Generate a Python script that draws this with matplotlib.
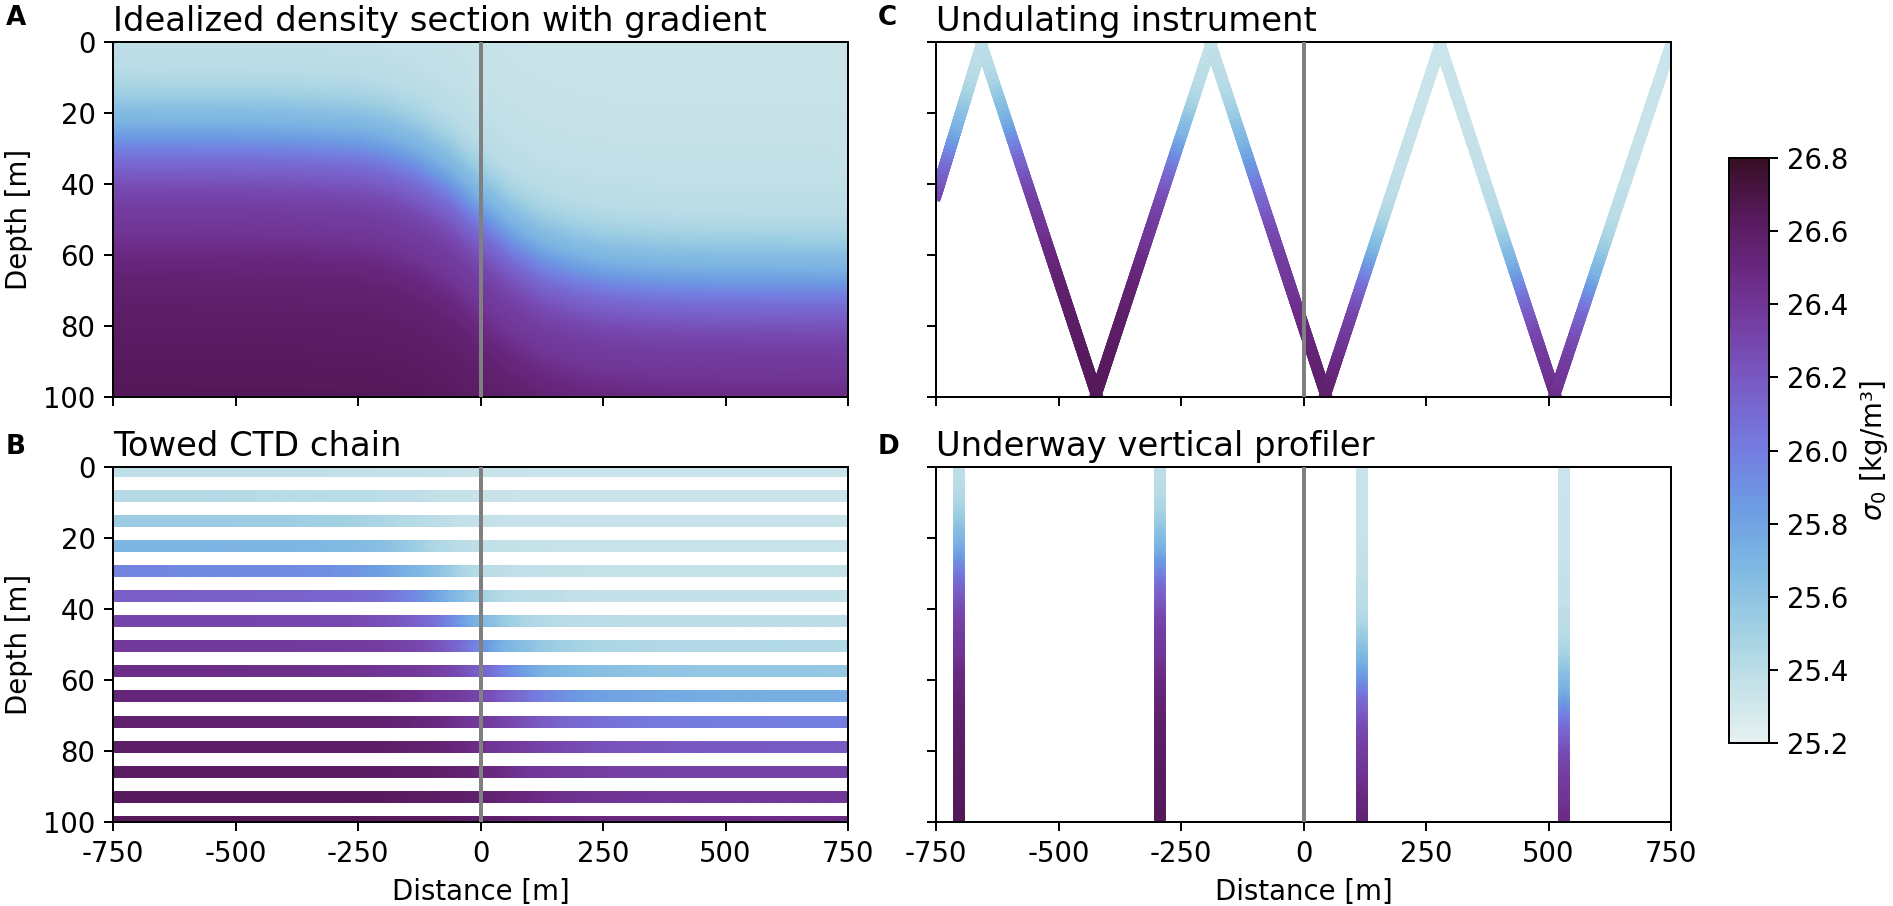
import numpy as np
import matplotlib
matplotlib.use("Agg")
import matplotlib.pyplot as plt
from matplotlib.colors import LinearSegmentedColormap, Normalize
from matplotlib.collections import LineCollection
from matplotlib.cm import ScalarMappable

plt.rcParams["font.size"] = 11
plt.rcParams["axes.unicode_minus"] = False

# depth of the pycnocline across the front
FRONT_X = [-750, -500, -375, -250, -188, -125, -62, 0, 62, 125, 188, 250, 375, 500, 750]
FRONT_DEPTH = [27.5, 27.7, 28.2, 29.3, 31.2, 34.8, 40.5, 48.5, 56, 61.5, 64.5, 66.5, 68, 68.5, 68.8]

# density profile relative to the pycnocline depth
PROFILE_OFFSET = [-70, -40, -29, -20, -16, -12.5, -9, -5, -1.5, 2.5, 6, 10, 14, 20, 26, 32, 41, 51, 72]
PROFILE_SIGMA = [25.33, 25.35, 25.37, 25.41, 25.46, 25.54, 25.63, 25.71, 25.83, 25.98,
                 26.10, 26.19, 26.28, 26.36, 26.40, 26.49, 26.56, 26.60, 26.65]

# sampling geometry of the instruments
CHAIN_DEPTHS = [1.0, 8.1, 15.1, 22.2, 29.3, 36.4, 43.4, 50.5, 57.6, 64.6, 71.7, 78.8, 85.9, 92.9, 100.0]
UNDULATOR_X = [-750, -657, -423, -189, 45, 279, 513, 750]
UNDULATOR_DEPTH = [43, 1, 99, 1, 99, 1, 99, 1]
PROFILER_X = [-704, -292, 120, 532]

SIGMA_MIN, SIGMA_MAX = 25.2, 26.8
CB_TICKS = [25.2, 25.4, 25.6, 25.8, 26.0, 26.2, 26.4, 26.6, 26.8]
X_TICKS = [-750, -500, -250, 0, 250, 500, 750]
Z_TICKS = [0, 20, 40, 60, 80, 100]

# approximation of cmocean "dense"
DENSE_COLORS = [
    (0.902, 0.945, 0.944),
    (0.765, 0.882, 0.910),
    (0.620, 0.812, 0.890),
    (0.500, 0.720, 0.890),
    (0.425, 0.615, 0.890),
    (0.455, 0.490, 0.880),
    (0.475, 0.375, 0.790),
    (0.460, 0.260, 0.660),
    (0.420, 0.165, 0.520),
    (0.340, 0.100, 0.360),
    (0.214, 0.056, 0.141),
]
cmap = LinearSegmentedColormap.from_list("dense", DENSE_COLORS)
norm = Normalize(SIGMA_MIN, SIGMA_MAX)
LW = 4.7


def sigma_at(x, z):
    h = np.interp(x, FRONT_X, FRONT_DEPTH)
    return np.interp(z - h, PROFILE_OFFSET, PROFILE_SIGMA)


def colored_line(ax, xs, zs, cap="round"):
    xs = np.asarray(xs, float)
    zs = np.asarray(zs, float)
    pts = np.column_stack([xs, zs])
    segs = np.stack([pts[:-1], pts[1:]], axis=1)
    lc = LineCollection(segs, cmap=cmap, norm=norm, linewidths=LW, capstyle=cap)
    lc.set_array(sigma_at((xs[:-1] + xs[1:]) / 2, (zs[:-1] + zs[1:]) / 2))
    ax.add_collection(lc)


W, H = 1893, 906
fig = plt.figure(figsize=(W / 180, H / 180), dpi=180)

ax_a = fig.add_axes([113 / W, 1 - 397 / H, 735 / W, 355 / H])
ax_b = fig.add_axes([113 / W, 1 - 822 / H, 735 / W, 355 / H])
ax_c = fig.add_axes([936 / W, 1 - 397 / H, 735 / W, 355 / H])
ax_d = fig.add_axes([936 / W, 1 - 822 / H, 735 / W, 355 / H])
cax = fig.add_axes([1729 / W, 1 - 743 / H, 40 / W, 585 / H])

# A: full field
xg = np.linspace(-750, 750, 751)
zg = np.linspace(0, 100, 401)
X, Z = np.meshgrid(xg, zg)
ax_a.imshow(sigma_at(X, Z), extent=[-750, 750, 100, 0], origin="upper",
            cmap=cmap, norm=norm, aspect="auto", interpolation="bilinear")

# B: towed chain, one line per sensor
for d in CHAIN_DEPTHS:
    xs = np.linspace(-750, 750, 301)
    colored_line(ax_b, xs, np.full_like(xs, d))

# C: undulating path
ux, uz = [], []
for i in range(len(UNDULATOR_X) - 1):
    ux.extend(np.linspace(UNDULATOR_X[i], UNDULATOR_X[i + 1], 80)[:-1])
    uz.extend(np.linspace(UNDULATOR_DEPTH[i], UNDULATOR_DEPTH[i + 1], 80)[:-1])
ux.append(UNDULATOR_X[-1])
uz.append(UNDULATOR_DEPTH[-1])
colored_line(ax_c, ux, uz, cap="projecting")

# D: vertical profiles
for px in PROFILER_X:
    zs = np.linspace(0, 100, 201)
    colored_line(ax_d, np.full_like(zs, px), zs)

titles = ["Idealized density section with gradient", "Towed CTD chain",
          "Undulating instrument", "Underway vertical profiler"]
for ax, title in zip([ax_a, ax_b, ax_c, ax_d], titles):
    ax.axvline(0, color="gray", lw=1.6, zorder=5)
    ax.set_xlim(-750, 750)
    ax.set_ylim(100, 0)
    ax.set_xticks(X_TICKS)
    ax.set_yticks(Z_TICKS)
    ax.set_title(title, loc="left", fontsize=13.5, pad=4.5)

ax_a.tick_params(labelbottom=False)
ax_c.tick_params(labelbottom=False, labelleft=False)
ax_d.tick_params(labelleft=False)
ax_a.set_ylabel("Depth [m]")
ax_b.set_ylabel("Depth [m]")
ax_b.set_xlabel("Distance [m]")
ax_d.set_xlabel("Distance [m]")

cb = fig.colorbar(ScalarMappable(norm=norm, cmap=cmap), cax=cax)
cb.set_ticks(CB_TICKS)
cb.set_label(r"$\sigma_0$ [kg/m³]")

for lbl, (px, py) in zip("ABCD", [(6, 18), (6, 447), (878, 18), (878, 447)]):
    fig.text(px / W, 1 - py / H, lbl, fontsize=10.5, fontweight="bold", ha="left", va="center")

fig.savefig("out.png", dpi=180)
